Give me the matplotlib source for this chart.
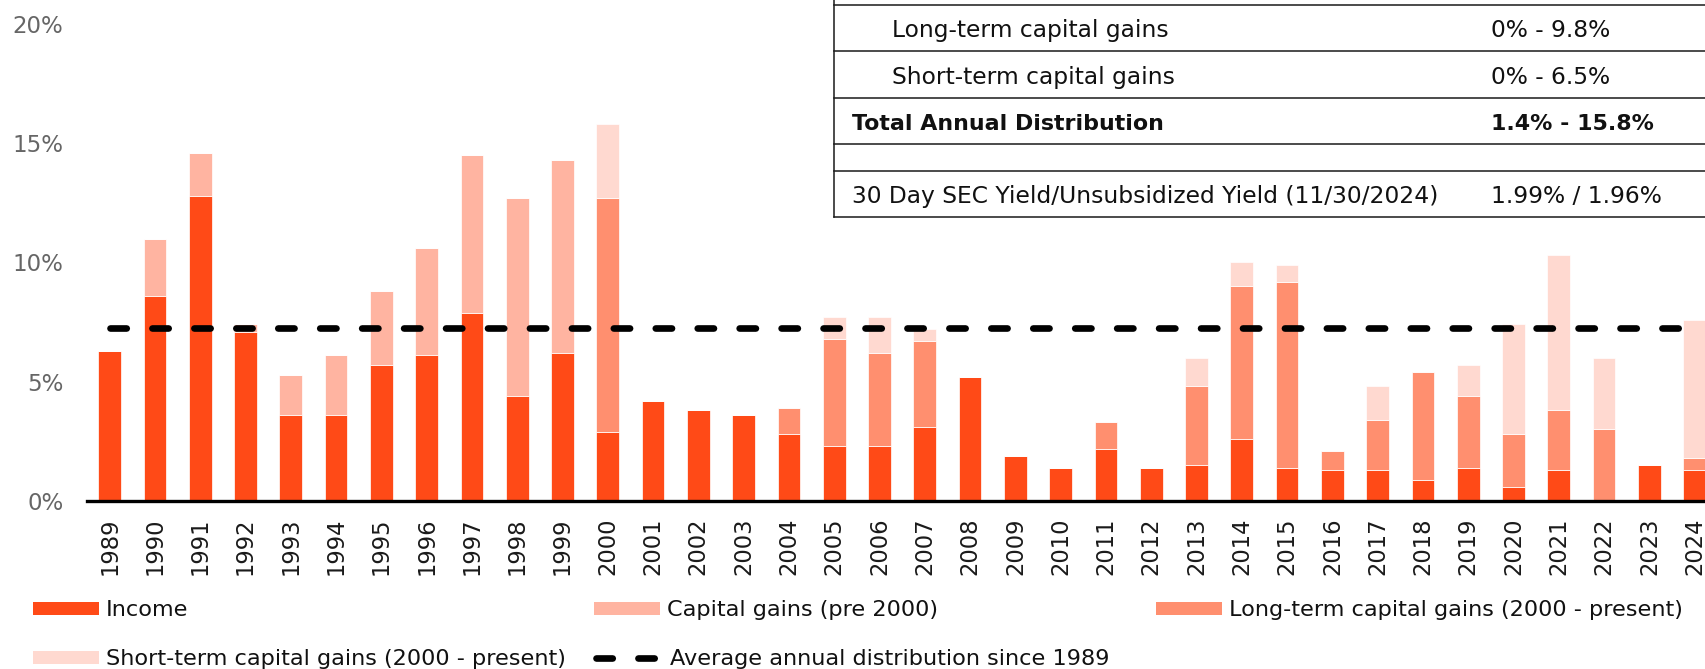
import matplotlib
matplotlib.use("Agg")
import matplotlib.pyplot as plt
from matplotlib.lines import Line2D
from matplotlib.patches import Rectangle
import numpy as np

OUT_PNG = "out.png"

# --- data (% of NAV per year) ---
YEARS = list(range(1989, 2025))
INCOME = [6.3, 8.6, 12.8, 7.1, 3.6, 3.6, 5.7, 6.1, 7.9, 4.4, 6.2,
          2.9, 4.2, 3.8, 3.6, 2.8, 2.3, 2.3, 3.1, 5.2, 1.9, 1.4, 2.2, 1.4,
          1.5, 2.6, 1.4, 1.3, 1.3, 0.9, 1.4, 0.6, 1.3, 0.0, 1.5, 1.3]
CAP_GAINS_PRE2000 = [0.0, 2.4, 1.8, 0.3, 1.7, 2.5, 3.1, 4.5, 6.6, 8.3, 8.1,
                     0, 0, 0, 0, 0, 0, 0, 0, 0, 0, 0, 0, 0,
                     0, 0, 0, 0, 0, 0, 0, 0, 0, 0, 0, 0]
LT_GAINS = [0, 0, 0, 0, 0, 0, 0, 0, 0, 0, 0,
            9.8, 0.0, 0.0, 0.0, 1.1, 4.5, 3.9, 3.6, 0.0, 0.0, 0.0, 1.1, 0.0,
            3.3, 6.4, 7.8, 0.8, 2.1, 4.5, 3.0, 2.2, 2.5, 3.0, 0.0, 0.5]
ST_GAINS = [0, 0, 0, 0, 0, 0, 0, 0, 0, 0, 0,
            3.1, 0.0, 0.0, 0.0, 0.0, 0.9, 1.5, 0.5, 0.0, 0.0, 0.0, 0.0, 0.0,
            1.2, 1.0, 0.7, 0.0, 1.4, 0.0, 1.3, 4.6, 6.5, 3.0, 0.0, 5.8]
AVG_DISTRIBUTION = 7.25

Y_TICKS = [0, 5, 10, 15, 20]
Y_TICK_LABELS = ["0%", "5%", "10%", "15%", "20%"]

SERIES_NAMES = ["Income", "Capital gains (pre 2000)",
                "Long-term capital gains (2000 - present)",
                "Short-term capital gains (2000 - present)"]
AVG_NAME = "Average annual distribution since 1989"

TABLE_LABELS = ["Long-term capital gains", "Short-term capital gains",
                "Total Annual Distribution", "",
                "30 Day SEC Yield/Unsubsidized Yield (11/30/2024)"]
TABLE_VALUES = ["0% - 9.8%", "0% - 6.5%", "1.4% - 15.8%", "", "1.99% / 1.96%"]
TABLE_INDENT = [True, True, False, False, False]
TABLE_BOLD = [False, False, True, False, False]

COLORS = ["#FF4A17", "#FFB4A1", "#FF8F6F", "#FFD9D0"]

W, H = 1706, 669


def fx(px):
    return px / W


def fy(py):
    # pixel row from top -> figure fraction from bottom
    return 1 - py / H


def main():
    plt.rcParams["font.family"] = ["DejaVu Sans"]
    plt.rcParams["lines.scale_dashes"] = False

    fig = plt.figure(figsize=(W / 100, H / 100), dpi=100)
    ax = fig.add_axes([fx(87), fy(501), fx(W - 87), 501 / H])

    x = np.arange(len(YEARS))
    bottom = np.zeros(len(YEARS))
    for vals, col in zip([INCOME, CAP_GAINS_PRE2000, LT_GAINS, ST_GAINS], COLORS):
        vals = np.array(vals, dtype=float)
        ax.bar(x, vals, width=0.5, bottom=bottom, color=col,
               edgecolor="white", linewidth=0.5, zorder=2)
        bottom += vals

    dash = (0, (11.7, 18.5))
    ax.plot([x[0], x[-1]], [AVG_DISTRIBUTION] * 2, color="black", lw=4.8,
            linestyle=dash, dash_capstyle="round", zorder=3)

    ax.set_xlim(-0.5, len(YEARS) - 0.75)
    ax.set_ylim(0, 21)
    ax.set_yticks(Y_TICKS)
    ax.set_yticklabels(Y_TICK_LABELS)
    ax.set_xticks(x)
    ax.set_xticklabels([str(y) for y in YEARS], rotation=90, va="top", ha="center")
    ax.tick_params(axis="y", length=0, pad=17, labelsize=16.5, labelcolor="#666666")
    ax.tick_params(axis="x", length=0, pad=12, labelsize=16.3, labelcolor="#1a1a1a")
    for s in ["top", "right", "left"]:
        ax.spines[s].set_visible(False)
    ax.spines["bottom"].set_linewidth(2.4)
    ax.spines["bottom"].set_color("black")
    ax.spines["bottom"].set_zorder(4)

    # --- table in the top right corner (cropped at the top) ---
    fig.patches.append(Rectangle((fx(834), fy(217)), 1 - fx(834), 217 / H,
                                 transform=fig.transFigure, facecolor="white",
                                 edgecolor="none", zorder=5))
    row_lines = [5, 51, 97.7, 144, 170.7, 216.7]
    for yy in row_lines:
        fig.add_artist(Line2D([fx(834), 1], [fy(yy), fy(yy)], color="#1a1a1a",
                              lw=1.1, transform=fig.transFigure, zorder=6))
    fig.add_artist(Line2D([fx(834), fx(834)], [1, fy(216.7)], color="#1a1a1a",
                          lw=1.1, transform=fig.transFigure, zorder=6))
    for i, (lab, val) in enumerate(zip(TABLE_LABELS, TABLE_VALUES)):
        if not lab:
            continue
        base = row_lines[i + 1] - 14
        if TABLE_BOLD[i]:
            weight, size = "bold", 15.9
        else:
            weight, size = "normal", 16.8
        lx = 891.7 if TABLE_INDENT[i] else 852.5
        fig.text(fx(lx), fy(base), lab, fontsize=size, fontweight=weight,
                 va="baseline", ha="left", color="#111111", zorder=7)
        fig.text(fx(1490.7), fy(base), val, fontsize=size, fontweight=weight,
                 va="baseline", ha="left", color="#111111", zorder=7)

    # --- legend, laid out as a 3-column grid ---
    cols = [32.6, 594, 1155.6]
    rows = [615, 664]  # patch bottom edge (px from top)
    slots = [(0, 0), (0, 1), (0, 2), (1, 0)]
    for name, col, (r, c) in zip(SERIES_NAMES, COLORS, slots):
        fig.patches.append(Rectangle((fx(cols[c]), fy(rows[r])), fx(66), 13 / H,
                                     transform=fig.transFigure, facecolor=col,
                                     edgecolor="none"))
        fig.text(fx(cols[c] + 73), fy(rows[r] + 1), name, fontsize=16.1,
                 va="baseline", ha="left", color="#111111")
    ly = fy(rows[1] - 6.5)
    fig.add_artist(Line2D([fx(596.4), fx(654.6)], [ly, ly], color="black", lw=4.8,
                          linestyle=dash, dash_capstyle="round",
                          transform=fig.transFigure))
    fig.text(fx(670), fy(rows[1] + 1), AVG_NAME, fontsize=16.1,
             va="baseline", ha="left", color="#111111")

    fig.savefig(OUT_PNG, dpi=100)


if __name__ == "__main__":
    main()
